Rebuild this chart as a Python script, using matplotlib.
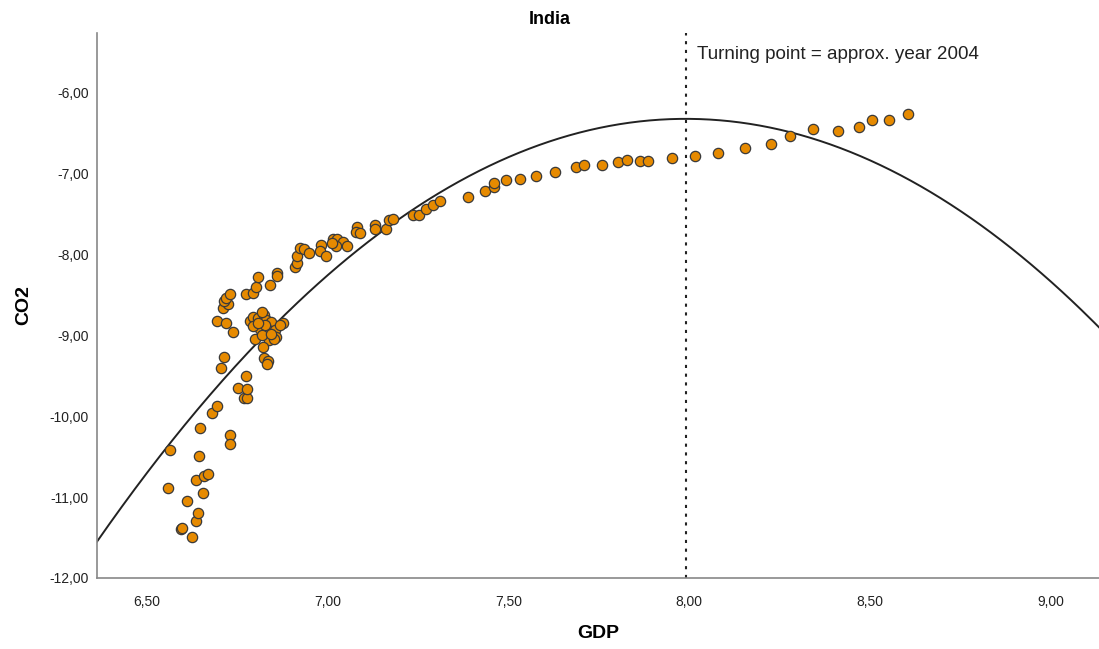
import numpy as np
import matplotlib.pyplot as plt
from matplotlib.ticker import FuncFormatter

# Datos (log GDP vs log CO2, India)
gdp = [6.559, 6.565, 6.593, 6.598, 6.612, 6.625, 6.635, 6.642, 6.635, 6.644,
       6.648, 6.656, 6.657, 6.669, 6.680, 6.695, 6.706, 6.731, 6.731, 6.752,
       6.768, 6.777, 6.777, 6.773, 6.714, 6.694, 6.720, 6.738, 6.709, 6.725,
       6.713, 6.720, 6.731, 6.773, 6.794, 6.801, 6.807, 6.840, 6.860, 6.860,
       6.785, 6.794, 6.807, 6.824, 6.828, 6.844, 6.875, 6.812, 6.835, 6.854,
       6.794, 6.826, 6.856, 6.837, 6.798, 6.821, 6.851, 6.817, 6.843, 6.824,
       6.835, 6.831, 6.806, 6.818, 6.867,
       6.909, 6.914, 6.915, 6.923, 6.935, 6.948, 6.980, 6.978, 6.996, 7.015,
       7.026, 7.041, 7.053, 7.024, 7.013, 7.081, 7.079, 7.088, 7.130, 7.130,
       7.160, 7.169, 7.180, 7.236, 7.252, 7.271, 7.291, 7.311, 7.389, 7.434,
       7.461, 7.461, 7.494, 7.532, 7.577, 7.629, 7.687, 7.710, 7.758, 7.802,
       7.827, 7.864, 7.887, 7.951, 8.017, 8.080, 8.154, 8.227, 8.278, 8.343,
       8.410, 8.470, 8.505, 8.552, 8.606]
co2 = [-10.885, -10.420, -11.395, -11.383, -11.046, -11.494, -11.296, -11.198, -10.790, -10.494,
       -10.142, -10.951, -10.741, -10.716, -9.967, -9.877, -9.401, -10.235, -10.346, -9.651,
       -9.778, -9.774, -9.667, -9.506, -9.275, -8.827, -8.856, -8.959, -8.670, -8.621,
       -8.577, -8.540, -8.494, -8.494, -8.478, -8.411, -8.288, -8.383, -8.231, -8.268,
       -8.827, -8.774, -8.786, -8.753, -8.815, -8.836, -8.856, -8.926, -8.938, -8.938,
       -8.889, -8.877, -9.028, -9.062, -9.053, -9.152, -9.049, -9.000, -8.988, -9.288,
       -9.317, -9.358, -8.852, -8.716, -8.877,
       -8.157, -8.115, -8.025, -7.930, -7.942, -7.984, -7.889, -7.959, -8.021, -7.819,
       -7.819, -7.848, -7.898, -7.898, -7.860, -7.670, -7.732, -7.744, -7.642, -7.695,
       -7.695, -7.580, -7.568, -7.519, -7.519, -7.444, -7.395, -7.346, -7.293, -7.219,
       -7.177, -7.127, -7.086, -7.074, -7.033, -6.991, -6.930, -6.905, -6.901, -6.860,
       -6.840, -6.848, -6.852, -6.819, -6.790, -6.749, -6.695, -6.642, -6.543, -6.457,
       -6.478, -6.428, -6.346, -6.346, -6.272]

# Ajuste cuadrático (coeficientes: x^2, x, constante)
fit_coef = [-1.97, 31.48, -132.09]
turning_point = 7.99
turning_text = 'Turning point = approx. year 2004'

plt.rcParams['font.family'] = ['Liberation Sans', 'DejaVu Sans']

fig = plt.figure(figsize=(10.99, 6.49), dpi=100)
ax = fig.add_axes([0.0883, 0.1094, 0.9117, 0.8397])

xmin, xmax = 6.362, 9.133
ax.set_xlim(xmin, xmax)
ax.set_ylim(-12, -5.27)

# Curva de ajuste
xs = np.linspace(xmin, xmax, 400)
ax.plot(xs, np.polyval(fit_coef, xs), color='#222222', linewidth=1.4, zorder=2)

# Puntos
ax.scatter(gdp, co2, s=55, facecolor='#E68A00', edgecolor='#3a3a3a',
           linewidth=0.9, zorder=3)

# Línea del punto de inflexión
ax.axvline(turning_point, color='#222222', linewidth=1.5,
           linestyle=(0, (1.5, 2.7)), zorder=1)
ax.text(turning_point + 0.03, -5.53, turning_text, fontsize=13.6,
        color='#222222', va='center', ha='left')

ax.set_xticks([6.5, 7.0, 7.5, 8.0, 8.5, 9.0])
ax.set_yticks([-12, -11, -10, -9, -8, -7, -6])
fmt = FuncFormatter(lambda v, p: f'{v:.2f}'.replace('.', ','))
ax.xaxis.set_major_formatter(fmt)
ax.yaxis.set_major_formatter(fmt)
ax.tick_params(axis='both', length=0, labelsize=10, colors='#222222')
ax.tick_params(axis='x', pad=12)
ax.tick_params(axis='y', pad=6)

for s in ['top', 'right']:
    ax.spines[s].set_visible(False)
for s in ['left', 'bottom']:
    ax.spines[s].set_color('#888888')
    ax.spines[s].set_linewidth(1.2)

ax.set_xlabel('GDP', fontsize=14, fontweight='bold', labelpad=12)
ax.set_ylabel('CO2', fontsize=14, fontweight='bold', labelpad=12)
fig.text(0.5, 1 - 19 / 649, 'India', fontsize=13, fontweight='bold',
         ha='center', va='center')

fig.savefig('out.png', dpi=100)
